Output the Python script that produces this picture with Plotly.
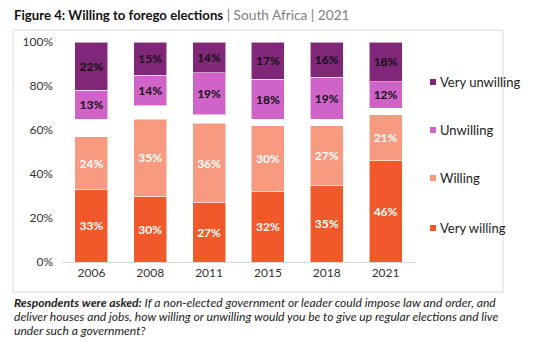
import plotly.graph_objects as go

years = ["2006", "2008", "2011", "2015", "2018", "2021"]
very_willing = [33, 30, 27, 32, 35, 46]
willing = [24, 35, 36, 30, 27, 21]
unwilling = [13, 14, 19, 18, 19, 12]
very_unwilling = [22, 15, 14, 17, 16, 18]
gap = [100 - a - b - c - d for a, b, c, d in zip(very_willing, willing, unwilling, very_unwilling)]

series = [
    ("Very willing", very_willing, "#F2592A", "white"),
    ("Willing", willing, "#F79A80", "white"),
    (None, gap, "rgba(0,0,0,0)", None),
    ("Unwilling", unwilling, "#D063C8", "#111111"),
    ("Very unwilling", very_unwilling, "#80277A", "#111111"),
]

FONT = "Lato"
fig = go.Figure()
for name, vals, col, tcol in series:
    if name is None:
        fig.add_trace(go.Bar(x=years, y=vals, marker=dict(color=col, line=dict(width=0)),
                             showlegend=False, hoverinfo="skip"))
    else:
        fig.add_trace(go.Bar(
            x=years, y=vals, name=name,
            marker=dict(color=col, line=dict(color="rgba(255,255,255,0.55)", width=1)),
            text=[f"{v}%" for v in vals], textposition="inside", insidetextanchor="middle",
            textfont=dict(color=tcol, size=12, family=FONT, weight="bold"),
            showlegend=False,
        ))

L, R, T, B = 62, 140, 42, 80
W, H = 555, 342
pw, ph = W - L - R, H - T - B

def px(x):
    return (x - L) / pw

def py(y):
    return (H - B - y) / ph

shapes = [dict(type="rect", xref="paper", yref="paper",
               x0=px(13), x1=px(503), y0=py(292), y1=py(30),
               line=dict(color="#d9d9d9", width=1), fillcolor="rgba(0,0,0,0)", layer="below")]
annotations = [
    dict(xref="paper", yref="paper", x=px(12), y=py(15), xanchor="left", yanchor="middle",
         showarrow=False, align="left",
         text=("<b>Figure 4: Willing to forego elections</b>"
               "<span style='color:#808080;font-size:13.7px'> | South Africa | 2021</span>"),
         font=dict(size=13.2, color="#111111", family=FONT)),
]

foot_lines = [
    "<b><i>Respondents were asked:</i></b><i> If a non-elected government or leader could impose law and order, and</i>",
    "<i>deliver houses and jobs, how willing or unwilling would you be to give up regular elections and live</i>",
    "<i>under such a government?</i>",
]
for line, cy in zip(foot_lines, [302, 316, 330]):
    annotations.append(dict(xref="paper", yref="paper", x=px(12), y=py(cy), xanchor="left",
                            yanchor="middle", showarrow=False, align="left", text=line,
                            font=dict(size=12.1, color="#222222", family=FONT)))

# legend (manual, to match compact marker/label spacing)
legend_items = [(s[0], s[2]) for s in series if s[0] is not None][::-1]
legend_y = [82, 130, 178, 228]
for (name, col), cy in zip(legend_items, legend_y):
    shapes.append(dict(type="rect", xref="paper", yref="paper",
                       x0=px(430), x1=px(436), y0=py(cy + 3), y1=py(cy - 3),
                       line=dict(width=0), fillcolor=col))
    annotations.append(dict(xref="paper", yref="paper", x=px(438), y=py(cy), xanchor="left",
                            yanchor="middle", showarrow=False, text=name,
                            font=dict(size=13, color="#222222", family=FONT)))

fig.update_layout(
    width=W, height=H,
    margin=dict(l=L, r=R, t=T, b=B),
    paper_bgcolor="white", plot_bgcolor="white",
    barmode="stack", bargap=0.44,
    font=dict(family=FONT, size=12, color="#333333"),
    showlegend=False,
    xaxis=dict(showline=True, linecolor="#d9d9d9", linewidth=1, ticks="",
               tickfont=dict(size=12, color="#333333"), showgrid=False),
    yaxis=dict(range=[0, 100], tickvals=[0, 20, 40, 60, 80, 100],
               ticktext=["0%", "20%", "40%", "60%", "80%", "100%"],
               showgrid=False, zeroline=False, showline=False, ticks="",
               ticklabelstandoff=8, tickfont=dict(size=12, color="#333333")),
    shapes=shapes,
    annotations=annotations,
)

fig.write_html("out.html")
